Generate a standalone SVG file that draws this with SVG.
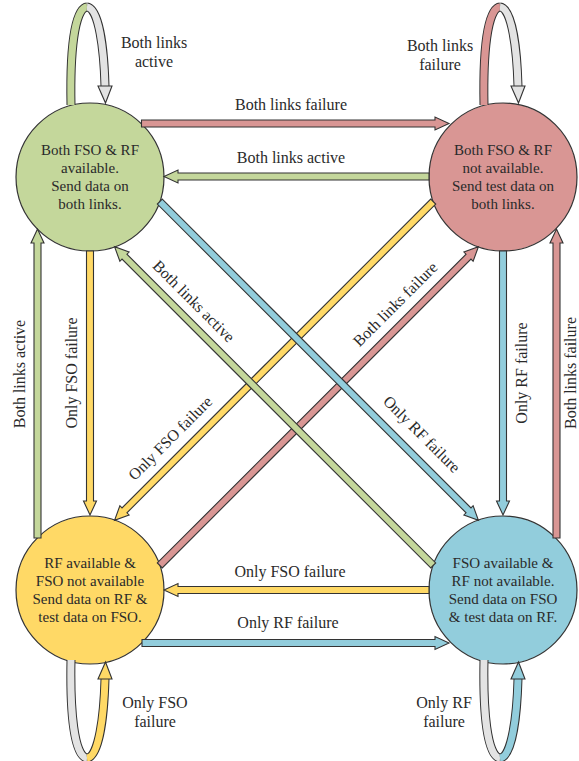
<svg xmlns="http://www.w3.org/2000/svg" width="579" height="761" viewBox="0 0 579 761">
<style>
  .node { stroke: #333; stroke-width: 1.2; }
  .ntext { font-family: "Liberation Serif", "Times New Roman", serif; font-size: 15px; fill: #2a2a2a; text-anchor: middle; }
  .lbl { font-family: "Liberation Serif", "Times New Roman", serif; font-size: 16px; fill: #2a2a2a; text-anchor: middle; }
  .arr { stroke: #333; stroke-width: 1.1; stroke-linejoin: miter; }
  .g { fill: #c4d79b; }
  .r { fill: #d99694; }
  .y { fill: #ffd966; }
  .b { fill: #92cddc; }
  .gr { fill: #e3e3e3; }
  .lo { fill: none; stroke: #333; stroke-width: 9; }
  .li { fill: none; stroke-width: 7; }
</style>
<rect width="579" height="761" fill="#ffffff"/>

<g id="node-both-available">
  <circle class="node g" cx="90" cy="177" r="74"/>
  <text class="ntext" x="90" y="155">Both FSO &amp; RF</text>
  <text class="ntext" x="90" y="173">available.</text>
  <text class="ntext" x="90" y="191">Send data on</text>
  <text class="ntext" x="90" y="209">both links.</text>
</g>
<g id="node-both-unavailable">
  <circle class="node r" cx="503" cy="177" r="74"/>
  <text class="ntext" x="503" y="155">Both FSO &amp; RF</text>
  <text class="ntext" x="503" y="173">not available.</text>
  <text class="ntext" x="503" y="191">Send test data on</text>
  <text class="ntext" x="503" y="209">both links.</text>
</g>
<g id="node-rf-only">
  <circle class="node y" cx="90" cy="590" r="74"/>
  <text class="ntext" x="90" y="568">RF available &amp;</text>
  <text class="ntext" x="90" y="586">FSO not available</text>
  <text class="ntext" x="90" y="604">Send data on RF &amp;</text>
  <text class="ntext" x="90" y="622">test data on FSO.</text>
</g>
<g id="node-fso-only">
  <circle class="node b" cx="503" cy="590" r="74"/>
  <text class="ntext" x="503" y="568">FSO available &amp;</text>
  <text class="ntext" x="503" y="586">RF not available.</text>
  <text class="ntext" x="503" y="604">Send data on FSO</text>
  <text class="ntext" x="503" y="622">&amp; test data on RF.</text>
</g>

<g id="connectors">
  <!-- self loops -->
  <g id="loop-green">
    <path class="lo" d="M71,105 C70,55 74,8 87,7"/>
    <path class="li" stroke="#c4d79b" d="M71,105 C70,55 74,8 87,7"/>
    <path class="lo" d="M87,7 C99,8 104,50 105,86"/>
    <path class="li" stroke="#e3e3e3" d="M87,7 C99,8 104,50 105,86"/>
    <polygon class="arr gr" points="98,86 112,86 105.5,103"/>
  </g>
  <g id="loop-red">
    <path class="lo" d="M484,105 C483,55 487,8 500,7"/>
    <path class="li" stroke="#d99694" d="M484,105 C483,55 487,8 500,7"/>
    <path class="lo" d="M500,7 C512,8 517,50 518,86"/>
    <path class="li" stroke="#e3e3e3" d="M500,7 C512,8 517,50 518,86"/>
    <polygon class="arr gr" points="511,86 525,86 518.5,103"/>
  </g>
  <g id="loop-yellow">
    <path class="lo" d="M71,660 C70,710 74,757 87,758"/>
    <path class="li" stroke="#e3e3e3" d="M71,660 C70,710 74,757 87,758"/>
    <path class="lo" d="M87,758 C99,757 104,715 105,679"/>
    <path class="li" stroke="#ffd966" d="M87,758 C99,757 104,715 105,679"/>
    <polygon class="arr y" points="98,679 112,679 105.5,662"/>
  </g>
  <g id="loop-blue">
    <path class="lo" d="M484,660 C483,710 487,757 500,758"/>
    <path class="li" stroke="#e3e3e3" d="M484,660 C483,710 487,757 500,758"/>
    <path class="lo" d="M500,758 C512,757 517,715 518,679"/>
    <path class="li" stroke="#92cddc" d="M500,758 C512,757 517,715 518,679"/>
    <polygon class="arr b" points="511,679 525,679 518.5,662"/>
  </g>

  <!-- straight arrows -->
  <path class="arr r" transform="translate(141.5,123.5)" d="M0,-3.5 H293.5 V-6.5 L307.5,0 L293.5,6.5 V3.5 H0 Z"/>
  <path class="arr g" transform="translate(429,176.5) rotate(180)" d="M0,-3.5 H251 V-6.5 L265,0 L251,6.5 V3.5 H0 Z"/>
  <path class="arr y" transform="translate(429,590) rotate(180)" d="M0,-3.5 H251 V-6.5 L265,0 L251,6.5 V3.5 H0 Z"/>
  <path class="arr b" transform="translate(142,643)" d="M0,-3.5 H293 V-6.5 L307,0 L293,6.5 V3.5 H0 Z"/>
  <path class="arr g" transform="translate(37.5,538) rotate(-90)" d="M0,-3.5 H295 V-6.5 L309,0 L295,6.5 V3.5 H0 Z"/>
  <path class="arr y" transform="translate(90,251) rotate(90)" d="M0,-3.5 H250 V-6.5 L264,0 L250,6.5 V3.5 H0 Z"/>
  <path class="arr b" transform="translate(503,251) rotate(90)" d="M0,-3.5 H250 V-6.5 L264,0 L250,6.5 V3.5 H0 Z"/>
  <path class="arr r" transform="translate(556.5,538) rotate(-90)" d="M0,-3.5 H295 V-6.5 L309,0 L295,6.5 V3.5 H0 Z"/>

  <!-- diagonal arrows -->
  <path class="arr y" transform="translate(433.2,201.6) rotate(135)" d="M0,-3.5 H436.6 V-6.5 L450.6,0 L436.6,6.5 V3.5 H0 Z"/>
  <path class="arr r" transform="translate(159.8,565.4) rotate(-45)" d="M0,-3.5 H436.6 V-6.5 L450.6,0 L436.6,6.5 V3.5 H0 Z"/>
  <path class="arr g" transform="translate(433.2,565.4) rotate(225)" d="M0,-3.5 H436.6 V-6.5 L450.6,0 L436.6,6.5 V3.5 H0 Z"/>
  <path class="arr b" transform="translate(159.8,201.6) rotate(45)" d="M0,-3.5 H436.6 V-6.5 L450.6,0 L436.6,6.5 V3.5 H0 Z"/>
</g>

<g id="labels">
  <text class="lbl" x="154" y="48">Both links</text>
  <text class="lbl" x="154" y="67">active</text>
  <text class="lbl" x="440" y="51">Both links</text>
  <text class="lbl" x="440" y="70">failure</text>
  <text class="lbl" x="155" y="708">Only FSO</text>
  <text class="lbl" x="155" y="727">failure</text>
  <text class="lbl" x="444" y="708">Only RF</text>
  <text class="lbl" x="444" y="727">failure</text>

  <text class="lbl" x="291" y="110">Both links failure</text>
  <text class="lbl" x="291" y="163">Both links active</text>
  <text class="lbl" x="290" y="577">Only FSO failure</text>
  <text class="lbl" x="288" y="628">Only RF failure</text>

  <text class="lbl" transform="translate(25,374) rotate(-90)">Both links active</text>
  <text class="lbl" transform="translate(77,373) rotate(-90)">Only FSO failure</text>
  <text class="lbl" transform="translate(527,373) rotate(-90)">Only RF failure</text>
  <text class="lbl" transform="translate(575.5,373) rotate(-90)">Both links failure</text>

  <text class="lbl" transform="translate(190,305) rotate(45)">Both links active</text>
  <text class="lbl" transform="translate(418,438) rotate(45)">Only RF failure</text>
  <text class="lbl" transform="translate(174,442) rotate(-45)">Only FSO failure</text>
  <text class="lbl" transform="translate(399,308) rotate(-45)">Both links failure</text>
</g>
</svg>
